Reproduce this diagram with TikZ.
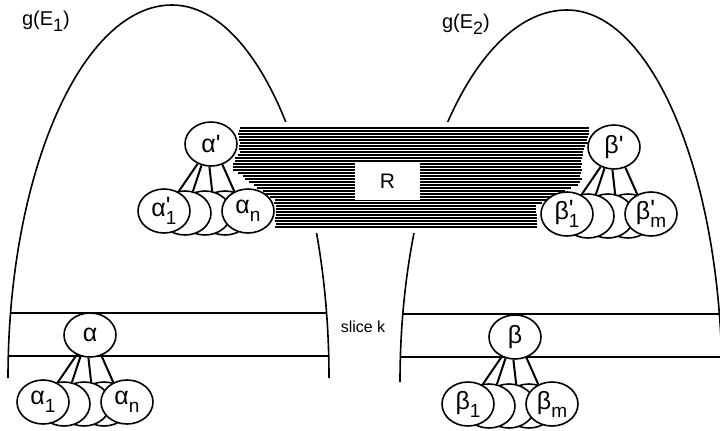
\documentclass[tikz,border=0pt]{standalone}
\usepackage{fontspec}
\setmainfont{Liberation Sans}
\usetikzlibrary{shapes.geometric}

\newcommand{\sbs}[1]{\raisebox{-0.6ex}{\fontsize{9.5}{10}\selectfont #1}}
\newcommand{\psbs}[1]{\rlap{\raisebox{0.2ex}{\textquotesingle}}\sbs{#1}}

\tikzset{
  ball/.style={ellipse, draw, fill=white, line width=0.8pt, minimum width=26pt,
    minimum height=22pt, inner sep=0pt, font=\fontsize{12.5}{13}\selectfont},
  stem/.style={line width=1pt},
  curve/.style={line width=0.8pt},
  hatch/.style={line width=0.75pt},
}

\begin{document}
\begin{tikzpicture}[x=0.5pt, y=-0.5pt]
    \clip (0,0) rectangle (720,430);
    \fill[white] (0,0) rectangle (720,430);

    % the two arches
    \draw[curve] (8,378) .. controls (8,173) and (82,5) .. (172,5)
        .. controls (258,5) and (329,173) .. (329,378);
    \draw[curve] (400,382) .. controls (400,177) and (475,10) .. (567,10)
        .. controls (652,10) and (722,177) .. (722,382);

    % slice k
    \draw[curve] (10,313) -- (327,313);
    \draw[curve] (8,356) -- (329,356);
    \draw[curve] (403,314) -- (720,314);
    \draw[curve] (400,357) -- (720,357);
    \node[font=\fontsize{8}{9}\selectfont] (slice) at (363,327) {slice k};

    % hatched band R
    \fill[white] (265,122) rectangle (465,233);
    \pgfmathsetseed{11}
    \foreach \i in {0,...,33} {
        \pgfmathsetmacro\y{128+3*\i}
        \pgfmathsetmacro\xl{((\y<150) ? 238 : ((\y<168) ? (238-8*(\y-150)/18) : ((\y<201) ? (230+44*(\y-168)/33) : 274))) + 3*rnd}
        \pgfmathsetmacro\xr{((\y<166) ? (592-10*(\y-128)/38) : ((\y<183) ? 582 : ((\y<204) ? (582-42*(\y-183)/21) : 538))) - 3*rnd}
        \draw[hatch] (\xl,\y) -- (\xr,\y);
    }
    \node[fill=white, minimum width=32.5pt, minimum height=18.5pt, inner sep=0pt,
        font=\fontsize{10.5}{12}\selectfont] (rbox) at (387.5,181.5) {R};

    % states and their children
    \foreach \g/\x/\y/\top/\first/\last in {
        a/90/335/{α}/{α\sbs{1}}/{α\sbs{n}},
        ap/211/144/{α\textquotesingle}/{α\psbs{1}}/{α\sbs{n}},
        bp/614/147/{β\textquotesingle}/{β\psbs{1}}/{β\psbs{m}},
        b/515/337/{β}/{β\sbs{1}}/{β\sbs{m}}} {
        \node[ball] (\g4) at ({\x+14},{\y+69}) {};
        \node[ball] (\g3) at ({\x-6},{\y+69}) {};
        \node[ball] (\g2) at ({\x-26},{\y+69}) {};
        \node[ball] (\g1) at ({\x-47},{\y+67}) {\first};
        \node[ball] (\g n) at ({\x+37},{\y+67}) {\last};
        \node[ball] (\g) at (\x,\y) {\top};
        \draw[stem] (\g.236) -- (\g1.53);
        \draw[stem] (\g.246) -- (\g2.70);
        \draw[stem] (\g.266) -- (\g3.72);
        \draw[stem] (\g.299) -- (\g n.125);
    }

    \node[anchor=west, font=\fontsize{10}{12}\selectfont] (g1) at (15,21)
        {g(E\raisebox{-3pt}{\fontsize{9}{10}\selectfont 1})};
    \node[anchor=west, font=\fontsize{10}{12}\selectfont] (g2) at (435,24)
        {g(E\raisebox{-3pt}{\fontsize{9}{10}\selectfont 2})};
\end{tikzpicture}
\end{document}
